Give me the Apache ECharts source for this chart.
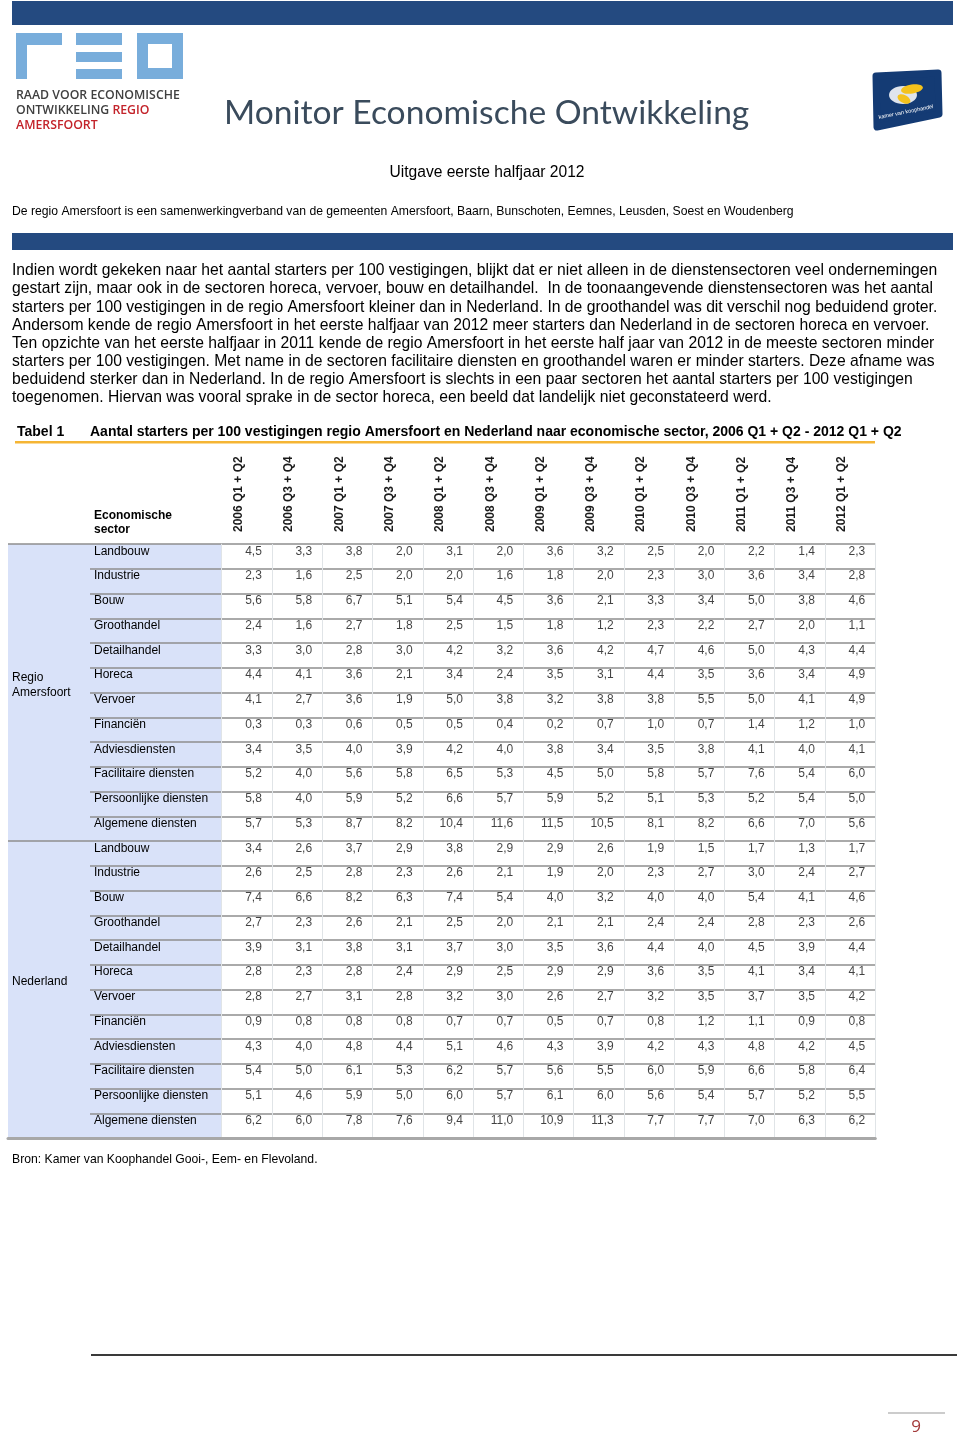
<!DOCTYPE html>
<html><head><meta charset="utf-8">
<script src="https://cdn.jsdelivr.net/npm/echarts@6/dist/echarts.min.js"></script>
<style>html,body{margin:0;padding:0;background:#fff}#c{width:960px;height:1436px}</style>
</head><body><div id="c"></div>
<script>
// ---------- DATA ----------
const periods = ['2006 Q1 + Q2','2006 Q3 + Q4','2007 Q1 + Q2','2007 Q3 + Q4','2008 Q1 + Q2','2008 Q3 + Q4','2009 Q1 + Q2','2009 Q3 + Q4','2010 Q1 + Q2','2010 Q3 + Q4','2011 Q1 + Q2','2011 Q3 + Q4','2012 Q1 + Q2'];
const sectors = ['Landbouw','Industrie','Bouw','Groothandel','Detailhandel','Horeca','Vervoer','Financiën','Adviesdiensten','Facilitaire diensten','Persoonlijke diensten','Algemene diensten'];
const groups = ['Regio\nAmersfoort','Nederland'];
const amersfoortValues = [
  [4.5,3.3,3.8,2.0,3.1,2.0,3.6,3.2,2.5,2.0,2.2,1.4,2.3],
  [2.3,1.6,2.5,2.0,2.0,1.6,1.8,2.0,2.3,3.0,3.6,3.4,2.8],
  [5.6,5.8,6.7,5.1,5.4,4.5,3.6,2.1,3.3,3.4,5.0,3.8,4.6],
  [2.4,1.6,2.7,1.8,2.5,1.5,1.8,1.2,2.3,2.2,2.7,2.0,1.1],
  [3.3,3.0,2.8,3.0,4.2,3.2,3.6,4.2,4.7,4.6,5.0,4.3,4.4],
  [4.4,4.1,3.6,2.1,3.4,2.4,3.5,3.1,4.4,3.5,3.6,3.4,4.9],
  [4.1,2.7,3.6,1.9,5.0,3.8,3.2,3.8,3.8,5.5,5.0,4.1,4.9],
  [0.3,0.3,0.6,0.5,0.5,0.4,0.2,0.7,1.0,0.7,1.4,1.2,1.0],
  [3.4,3.5,4.0,3.9,4.2,4.0,3.8,3.4,3.5,3.8,4.1,4.0,4.1],
  [5.2,4.0,5.6,5.8,6.5,5.3,4.5,5.0,5.8,5.7,7.6,5.4,6.0],
  [5.8,4.0,5.9,5.2,6.6,5.7,5.9,5.2,5.1,5.3,5.2,5.4,5.0],
  [5.7,5.3,8.7,8.2,10.4,11.6,11.5,10.5,8.1,8.2,6.6,7.0,5.6]
];
const nederlandValues = [
  [3.4,2.6,3.7,2.9,3.8,2.9,2.9,2.6,1.9,1.5,1.7,1.3,1.7],
  [2.6,2.5,2.8,2.3,2.6,2.1,1.9,2.0,2.3,2.7,3.0,2.4,2.7],
  [7.4,6.6,8.2,6.3,7.4,5.4,4.0,3.2,4.0,4.0,5.4,4.1,4.6],
  [2.7,2.3,2.6,2.1,2.5,2.0,2.1,2.1,2.4,2.4,2.8,2.3,2.6],
  [3.9,3.1,3.8,3.1,3.7,3.0,3.5,3.6,4.4,4.0,4.5,3.9,4.4],
  [2.8,2.3,2.8,2.4,2.9,2.5,2.9,2.9,3.6,3.5,4.1,3.4,4.1],
  [2.8,2.7,3.1,2.8,3.2,3.0,2.6,2.7,3.2,3.5,3.7,3.5,4.2],
  [0.9,0.8,0.8,0.8,0.7,0.7,0.5,0.7,0.8,1.2,1.1,0.9,0.8],
  [4.3,4.0,4.8,4.4,5.1,4.6,4.3,3.9,4.2,4.3,4.8,4.2,4.5],
  [5.4,5.0,6.1,5.3,6.2,5.7,5.6,5.5,6.0,5.9,6.6,5.8,6.4],
  [5.1,4.6,5.9,5.0,6.0,5.7,6.1,6.0,5.6,5.4,5.7,5.2,5.5],
  [6.2,6.0,7.8,7.6,9.4,11.0,10.9,11.3,7.7,7.7,7.0,6.3,6.2]
];
const paragraphLines = [
  'Indien wordt gekeken naar het aantal starters per 100 vestigingen, blijkt dat er niet alleen in de dienstensectoren veel ondernemingen',
  'gestart zijn, maar ook in de sectoren horeca, vervoer, bouw en detailhandel.  In de toonaangevende dienstensectoren was het aantal',
  'starters per 100 vestigingen in de regio Amersfoort kleiner dan in Nederland. In de groothandel was dit verschil nog beduidend groter.',
  'Andersom kende de regio Amersfoort in het eerste halfjaar van 2012 meer starters dan Nederland in de sectoren horeca en vervoer.',
  'Ten opzichte van het eerste halfjaar in 2011 kende de regio Amersfoort in het eerste half jaar van 2012 in de meeste sectoren minder',
  'starters per 100 vestigingen. Met name in de sectoren facilitaire diensten en groothandel waren er minder starters. Deze afname was',
  'beduidend sterker dan in Nederland. In de regio Amersfoort is slechts in een paar sectoren het aantal starters per 100 vestigingen',
  'toegenomen. Hiervan was vooral sprake in de sector horeca, een beeld dat landelijk niet geconstateerd werd.'
];

// ---------- BUILD ----------
const FONT = 'Arial, "Liberation Sans", Helvetica, sans-serif';
const rowLabels = sectors.concat(sectors);
const cells = [];
amersfoortValues.forEach((row, r) => row.forEach((v, c) => cells.push([c, r, v])));
nederlandValues.forEach((row, r) => row.forEach((v, c) => cells.push([c, r + sectors.length, v])));
const fmt = v => v.toFixed(1).replace('.', ',');

const BLUE_LIGHT = '#d9e2f9';
const ROWLINE = '#8e8e8e';
const TOP = 544, H = 594;

function txt(x, y, text, o) {
  o = o || {};
  return { type: 'text', x: x, y: y, silent: true, z: 10,
    style: { text: text, fill: o.fill || '#000', font: o.font || ('12px ' + FONT),
      textAlign: o.align || 'left', textVerticalAlign: 'middle' } };
}

const LOGOFONT = '600 12.3px "Open Sans", sans-serif';
const graphic = [
  // top band
  { type: 'rect', shape: { x: 12, y: 1, width: 941, height: 24 }, style: { fill: '#244a80' }, silent: true },
  // RED logo glyphs
  { type: 'rect', shape: { x: 16, y: 33, width: 46, height: 12 }, style: { fill: '#78addb' }, silent: true },
  { type: 'rect', shape: { x: 16, y: 33, width: 11, height: 46 }, style: { fill: '#78addb' }, silent: true },
  { type: 'rect', shape: { x: 76, y: 33, width: 46, height: 12 }, style: { fill: '#78addb' }, silent: true },
  { type: 'rect', shape: { x: 76, y: 52, width: 46, height: 10 }, style: { fill: '#78addb' }, silent: true },
  { type: 'rect', shape: { x: 76, y: 69, width: 46, height: 10 }, style: { fill: '#78addb' }, silent: true },
  { type: 'rect', shape: { x: 142.5, y: 38.5, width: 35, height: 35 }, style: { fill: 'none', stroke: '#78addb', lineWidth: 11 }, silent: true },
  txt(16, 95, 'RAAD VOOR ECONOMISCHE', { fill: '#404040', font: LOGOFONT }),
  { type: 'text', x: 16, y: 110, silent: true, style: { text: '{a|ONTWIKKELING }{b|REGIO}', textVerticalAlign: 'middle',
      rich: { a: { fill: '#404040', font: LOGOFONT }, b: { fill: '#c3232a', font: LOGOFONT } } } },
  txt(16, 125, 'AMERSFOORT', { fill: '#c3232a', font: LOGOFONT }),
  // title
  txt(224, 113, 'Monitor Economische Ontwikkeling', { fill: '#3a4b5c', font: '33.6px Lato, sans-serif' }),
  // KvK logo
  { type: 'polygon', shape: { points: [[876, 76], [938, 73], [939, 114], [877, 127]] },
    style: { fill: '#143b74', stroke: '#143b74', lineWidth: 7, lineJoin: 'round' }, silent: true },
  { type: 'ellipse', shape: { cx: 903, cy: 95, rx: 14, ry: 9 }, style: { fill: '#dfe4ec' }, silent: true },
  { type: 'ellipse', shape: { cx: 912, cy: 89, rx: 11, ry: 4.5 }, rotation: 0.15, originX: 912, originY: 89, style: { fill: '#f4c21c' }, silent: true },
  { type: 'ellipse', shape: { cx: 904, cy: 99, rx: 7, ry: 4 }, rotation: -0.5, originX: 904, originY: 99, style: { fill: '#f4c21c' }, silent: true },
  { type: 'text', x: 906, y: 112, rotation: 0.2, silent: true, style: { text: 'kamer van koophandel', fill: '#fff', font: '5.5px ' + FONT, textAlign: 'center', textVerticalAlign: 'middle' } },
  // subtitle lines
  txt(487, 173, 'Uitgave eerste halfjaar 2012', { font: '15.6px ' + FONT, align: 'center' }),
  txt(12, 212, 'De regio Amersfoort is een samenwerkingverband van de gemeenten Amersfoort, Baarn, Bunschoten, Eemnes, Leusden, Soest en Woudenberg', { font: '12.2px ' + FONT }),
  { type: 'rect', shape: { x: 12, y: 233, width: 941, height: 17 }, style: { fill: '#244a80' }, silent: true },
  // table title
  txt(17, 432, 'Tabel 1', { font: 'bold 14px ' + FONT }),
  txt(90, 432, 'Aantal starters per 100 vestigingen regio Amersfoort en Nederland naar economische sector, 2006 Q1 + Q2 - 2012 Q1 + Q2', { font: 'bold 14px ' + FONT }),
  { type: 'rect', shape: { x: 15, y: 441, width: 860, height: 2.5 }, style: { fill: '#f5b534' }, silent: true },
  txt(94, 516, 'Economische', { font: 'bold 12px ' + FONT }),
  txt(94, 530, 'sector', { font: 'bold 12px ' + FONT }),
  // source
  txt(12, 1160, 'Bron: Kamer van Koophandel Gooi-, Eem- en Flevoland.', { font: '12.2px ' + FONT }),
  // footer
  { type: 'rect', shape: { x: 91, y: 1354, width: 866, height: 2 }, style: { fill: '#3a3a3a' }, silent: true },
  { type: 'rect', shape: { x: 888, y: 1412.5, width: 57, height: 1 }, style: { fill: '#9a9a9a' }, silent: true },
  txt(916, 1427, '9', { fill: '#a33a3a', font: '17px "Open Sans", sans-serif', align: 'center' })
];
paragraphLines.forEach((l, i) => graphic.push(txt(12, 271 + i * 18.1, l, { font: '15.7px ' + FONT })));

const noAxisBits = { axisLine: { show: false }, axisTick: { show: false }, axisLabel: { show: false }, splitLine: { show: false } };
const bottomLine = { show: true, lineStyle: { color: '#a8a8a8', width: 3 } };
const splitRows = { show: true, interval: 0, lineStyle: { color: ROWLINE, width: 1.5 } };

const option = {
  animation: false,
  backgroundColor: '#fff',
  textStyle: { fontFamily: FONT },
  graphic: graphic,
  grid: [
    { left: 8, top: TOP, width: 82, height: H },
    { left: 90, top: TOP, width: 131.7, height: H },
    { left: 221.7, top: TOP, width: 653.6, height: H }
  ],
  xAxis: [
    { gridIndex: 0, type: 'category', data: [''], position: 'bottom', axisLine: bottomLine, axisTick: { show: false }, axisLabel: { show: false }, splitLine: { show: false } },
    { gridIndex: 1, type: 'category', data: [''], position: 'bottom', axisLine: bottomLine, axisTick: { show: false }, axisLabel: { show: false }, splitLine: { show: false } },
    { gridIndex: 2, type: 'category', data: periods, position: 'top', axisLine: { show: false }, axisTick: { show: false },
      axisLabel: { rotate: -90, margin: 12, fontSize: 12, fontWeight: 'bold', color: '#1a1a1a', fontFamily: FONT, interval: 0,
        lineHeight: 16, formatter: v => v + '\n ' },
      splitLine: { show: true, interval: 0, lineStyle: { color: '#e0e4e7', width: 1 } } },
    Object.assign({ gridIndex: 2, type: 'category', data: periods, position: 'bottom' }, noAxisBits, { axisLine: bottomLine })
  ],
  yAxis: [
    { gridIndex: 0, type: 'category', data: groups, inverse: true, axisLine: { show: false }, axisTick: { show: false },
      axisLabel: { align: 'left', margin: -4, fontSize: 12, color: '#000', lineHeight: 15, fontFamily: FONT,
        formatter: v => v + '\n ' },
      splitLine: splitRows, splitArea: { show: true, areaStyle: { color: [BLUE_LIGHT] } } },
    { gridIndex: 1, type: 'category', data: rowLabels, inverse: true, axisLine: { show: false }, axisTick: { show: false },
      axisLabel: { align: 'left', lineHeight: 10, margin: -4, fontSize: 12, color: '#000', interval: 0, fontFamily: FONT,
        formatter: v => v + '\n ' },
      splitLine: splitRows, splitArea: { show: true, areaStyle: { color: [BLUE_LIGHT] } } },
    { gridIndex: 2, type: 'category', data: rowLabels, inverse: true, axisLine: { show: false }, axisTick: { show: false },
      axisLabel: { show: false }, splitLine: splitRows }
  ],
  series: [{
    type: 'scatter', xAxisIndex: 2, yAxisIndex: 2, data: cells, symbolSize: 1, silent: true,
    itemStyle: { color: 'rgba(0,0,0,0)' },
    label: { show: true, position: 'inside', align: 'right', offset: [15, -5], fontSize: 12, color: '#111', fontFamily: FONT,
      formatter: p => fmt(p.value[2]) }
  }]
};
const chart = echarts.init(document.getElementById('c'), null, { renderer: 'canvas' });
chart.setOption(option);
</script></body></html>
